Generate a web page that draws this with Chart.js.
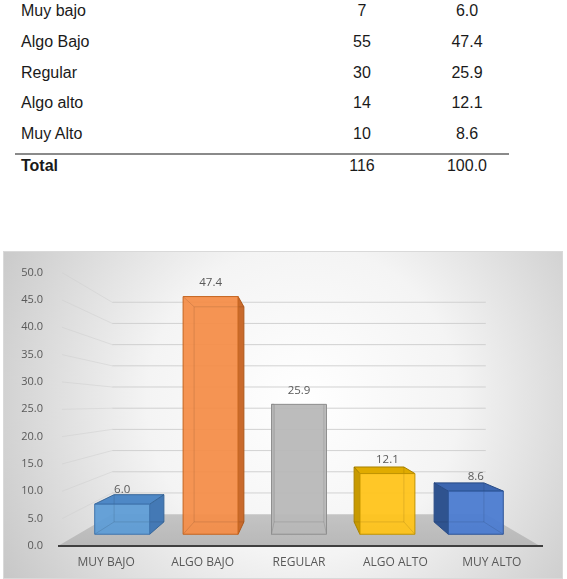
<!DOCTYPE html>
<html>
<head>
<meta charset="utf-8">
<script src="https://cdn.jsdelivr.net/npm/chart.js@4.4.0/dist/chart.umd.min.js"></script>
<style>
    html, body { margin: 0; padding: 0; background: #fff; width: 567px; height: 579px; overflow: hidden; position: relative; font-family: "Liberation Sans", Arial, sans-serif; }
    .fila { position: absolute; left: 0; width: 567px; height: 31px; line-height: 31px; font-size: 16px; color: #1a1a1a; }
    .fila span { position: absolute; top: 0; white-space: nowrap; }
    .c1 { left: 21px; }
    .c2 { left: 322px; width: 80px; text-align: center; }
    .c3 { left: 427px; width: 80px; text-align: center; }
    #regla { position: absolute; left: 15px; width: 494px; top: 153px; border-top: 2px solid #8a8a8a; }
    #panel { position: absolute; left: 3px; top: 251px; width: 560px; height: 328px; }
</style>
</head>
<body>
<div id="tabla"></div>
<div id="regla"></div>
<div id="panel"><canvas id="grafico" width="560" height="328"></canvas></div>

<script>
    // Datos de la tabla
    const niveles = ['Muy bajo', 'Algo Bajo', 'Regular', 'Algo alto', 'Muy Alto'];
    const frecuencias = [7, 55, 30, 14, 10];
    const totalFrecuencia = 116;
    const totalPorcentaje = 100.0;

    // Datos del gráfico
    const etiquetas = ['MUY BAJO', 'ALGO BAJO', 'REGULAR', 'ALGO ALTO', 'MUY ALTO'];
    const porcentajes = [6.0, 47.4, 25.9, 12.1, 8.6];

    // Colores de cada barra (frente, lado, tapa, borde)
    const colorFrente = ['#5d9cd6', '#f48d48', '#b8b8b8', '#ffc419', '#4a7bd0'];
    const colorLado = ['#4479b5', '#c96a2c', '#9a9a9a', '#c89a00', '#2f538f'];
    const colorTapa = ['#4e88c6', '#e07a36', '#a8a8a8', '#e0ab00', '#3c66b0'];
    const colorBorde = ['#3f74ad', '#c4641f', '#8f8f8f', '#bf9300', '#2e5597'];

    // Perspectiva (altura del ojo en unidades del eje, escalas de profundidad)
    const ojo = 25.9;
    const sFrente = 0.917;
    const sFondo = 0.83;
    const sPared = 0.775;

    // --- tabla ---
    const tabla = document.getElementById('tabla');
    function agregarFila(top, a, b, c, negrita) {
        const div = document.createElement('div');
        div.className = 'fila';
        div.style.top = top + 'px';
        if (negrita) div.style.fontWeight = 'bold';
        div.innerHTML = `<span class="c1">${a}</span><span class="c2" style="font-weight:normal">${b}</span><span class="c3" style="font-weight:normal">${c}</span>`;
        tabla.appendChild(div);
    }
    niveles.forEach((n, i) => agregarFila(-5 + i * 30.8, n, frecuencias[i], porcentajes[i].toFixed(1), false));
    agregarFila(150, 'Total', totalFrecuencia, totalPorcentaje.toFixed(1), true);

    // --- gráfico 3D ---
    function poligono(ctx, pts, fill, stroke) {
        ctx.beginPath();
        ctx.moveTo(pts[0][0], pts[0][1]);
        for (let k = 1; k < pts.length; k++) ctx.lineTo(pts[k][0], pts[k][1]);
        ctx.closePath();
        if (fill) { ctx.fillStyle = fill; ctx.fill(); }
        if (stroke) { ctx.strokeStyle = stroke; ctx.stroke(); }
    }

    function proyector(chart) {
        const a = chart.chartArea;
        const cx = (a.left + a.right) / 2;
        const vy = chart.scales.y.getPixelForValue(ojo);
        return (px, py, s) => [cx + (px - cx) * s, vy + (py - vy) * s];
    }

    const escena3d = {
        id: 'escena3d',
        beforeDraw(chart) {
            const { ctx, width, height, chartArea: a } = chart;
            const y = chart.scales.y;
            const P = proyector(chart);
            ctx.save();

            // fondo degradado
            const g = ctx.createRadialGradient(300, 150, 0, 300, 150, 390);
            g.addColorStop(0, '#ffffff');
            g.addColorStop(0.4, '#f4f4f4');
            g.addColorStop(1, '#bdbdbd');
            ctx.fillStyle = g;
            ctx.fillRect(0, 0, width, height);
            ctx.strokeStyle = '#d9d9d9';
            ctx.lineWidth = 1;
            ctx.strokeRect(0.5, 0.5, width - 1, height - 1);

            // líneas de la pared del fondo y de la pared lateral
            y.ticks.forEach(t => {
                if (t.value === 0) return;
                const py = y.getPixelForValue(t.value);
                const l = P(a.left, py, sPared), r = P(a.right, py, sPared);
                ctx.strokeStyle = 'rgba(205,205,205,0.9)';
                ctx.beginPath(); ctx.moveTo(l[0], l[1]); ctx.lineTo(r[0], r[1]); ctx.stroke();
                ctx.strokeStyle = 'rgba(205,205,205,0.5)';
                ctx.beginPath(); ctx.moveTo(l[0], l[1]); ctx.lineTo(a.left + 4, py); ctx.stroke();
            });

            // piso
            const y0 = y.getPixelForValue(0);
            const piso = [P(a.left, y0, 1), P(a.right, y0, 1), P(a.right, y0, sPared), P(a.left, y0, sPared)];
            const gp = ctx.createLinearGradient(0, piso[2][1], 0, y0);
            gp.addColorStop(0, '#c4c4c4');
            gp.addColorStop(1, '#b8b8b8');
            poligono(ctx, piso, gp, null);

            // línea del eje
            ctx.strokeStyle = '#3f3f3f';
            ctx.lineWidth = 2;
            ctx.beginPath(); ctx.moveTo(a.left, y0); ctx.lineTo(a.right + 3, y0); ctx.stroke();
            ctx.restore();
        },
        afterDatasetsDraw(chart) {
            const { ctx, chartArea: a } = chart;
            const P = proyector(chart);
            const cx = (a.left + a.right) / 2;
            const meta = chart.getDatasetMeta(0);
            ctx.save();
            ctx.lineWidth = 1;
            meta.data.forEach((el, i) => {
                const { x: bx, y: top, base, width: w } = el.getProps(['x', 'y', 'base', 'width'], true);
                const L = bx - w / 2, R = bx + w / 2;
                const f = [P(L, top, sFrente), P(R, top, sFrente), P(R, base, sFrente), P(L, base, sFrente)];
                const b = [P(L, top, sFondo), P(R, top, sFondo), P(R, base, sFondo), P(L, base, sFondo)];

                // cara lateral visible
                const lado = bx < cx ? [f[1], b[1], b[2], f[2]] : [f[0], b[0], b[3], f[3]];
                poligono(ctx, lado, colorLado[i], colorBorde[i]);

                // tapa (solo si el ojo está por encima)
                if (b[0][1] < f[0][1] - 0.5) {
                    poligono(ctx, [f[0], f[1], b[1], b[0]], colorTapa[i], colorBorde[i]);
                }

                // cara frontal
                ctx.globalAlpha = 0.94;
                poligono(ctx, f, colorFrente[i], null);
                ctx.globalAlpha = 1;

                // aristas ocultas vistas por transparencia
                ctx.strokeStyle = 'rgba(0,0,0,0.11)';
                poligono(ctx, b, null, 'rgba(0,0,0,0.11)');
                for (let k = 0; k < 4; k++) {
                    ctx.beginPath(); ctx.moveTo(f[k][0], f[k][1]); ctx.lineTo(b[k][0], b[k][1]); ctx.stroke();
                }
                poligono(ctx, f, null, colorBorde[i]);

                // etiqueta de valor
                ctx.fillStyle = '#595959';
                ctx.font = '11.5px "Open Sans", sans-serif';
                ctx.textAlign = 'center';
                ctx.textBaseline = 'middle';
                ctx.fillText(porcentajes[i].toFixed(1), (f[0][0] + f[1][0]) / 2, f[0][1] - 14);
            });
            ctx.restore();
        }
    };

    const grafico = new Chart(document.getElementById('grafico').getContext('2d'), {
        type: 'bar',
        data: {
            labels: etiquetas,
            datasets: [{
                data: porcentajes,
                backgroundColor: 'rgba(0,0,0,0)',
                borderWidth: 0,
                barPercentage: 0.622,
                categoryPercentage: 1
            }]
        },
        options: {
            responsive: false,
            animation: false,
            events: [],
            layout: { padding: { left: 3, right: 23, top: 21, bottom: 0 } },
            plugins: { legend: { display: false }, tooltip: { enabled: false } },
            scales: {
                x: {
                    grid: { display: false, drawTicks: false },
                    border: { display: false },
                    ticks: { color: '#595959', font: { family: 'Open Sans', size: 12 }, padding: 9, maxRotation: 0, autoSkip: false },
                    afterFit(s) { s.height = 33; }
                },
                y: {
                    min: 0,
                    max: 50,
                    grid: { display: false, drawTicks: false },
                    border: { display: false },
                    ticks: {
                        stepSize: 5,
                        padding: 15,
                        color: '#595959',
                        font: { family: 'Open Sans', size: 11 },
                        callback: v => v.toFixed(1)
                    },
                    afterFit(s) { s.width = 52; }
                }
            }
        },
        plugins: [escena3d]
    });
</script>
</body>
</html>
